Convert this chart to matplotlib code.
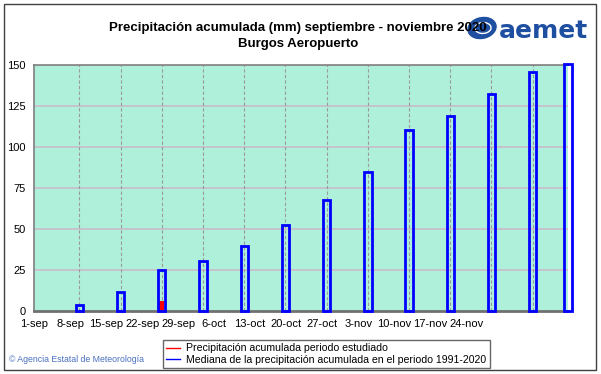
import numpy as np
import matplotlib
matplotlib.use("Agg")
from matplotlib import pyplot as plt
from matplotlib.patches import Rectangle, Ellipse
from matplotlib.lines import Line2D

plt.rcParams["font.family"] = ["Liberation Sans", "DejaVu Sans"]

# data (days since 1-sep)
bar_days = [7, 14, 21, 28, 35, 42, 49, 56, 63, 70, 77, 84, 90]
mediana = [3.5, 11.4, 24.8, 30.3, 39.4, 52.4, 67.9, 84.9, 110.5, 119.1, 132.5, 145.7, 150.5]
obs_days = [7, 14, 21]
observada = [0, 0, 6.3]
xlabels = ["1-sep", "8-sep", "15-sep", "22-sep", "29-sep", "6-oct", "13-oct",
           "20-oct", "27-oct", "3-nov", "10-nov", "17-nov", "24-nov"]
yticks = [0, 25, 50, 75, 100, 125, 150]

fig = plt.figure(figsize=(6.01, 3.74), dpi=100)
fig.patch.set_facecolor("white")

# outer frame
fig.patches.append(Rectangle((4 / 601, 4 / 374), 592 / 601, 366 / 374,
                             transform=fig.transFigure, fill=False,
                             edgecolor="#404040", linewidth=1.0))

ax = fig.add_axes([34 / 601, 63 / 374, 534 / 601, 246 / 374])
ax.set_facecolor("#aff0da")
ax.set_xlim(0, 90)
ax.set_ylim(0, 150)

# grid
for v in yticks[1:]:
    ax.axhline(v, color="#c8c0cc", linewidth=1.3, zorder=1)
for d in bar_days[:-1]:
    ax.axvline(d, color="#9a9a9a", linewidth=0.8, linestyle=(0, (3, 2)), zorder=1)

# bars
ax.bar(bar_days, mediana, width=1.25, facecolor="none", edgecolor="#0000ff",
       linewidth=2.0, zorder=3, clip_on=False)
ax.bar(obs_days, observada, width=0.8, color="#ff0000", linewidth=0, zorder=2)

# axes styling
for s in ["top", "left"]:
    ax.spines[s].set_color("#808080")
    ax.spines[s].set_linewidth(1.2)
ax.spines["bottom"].set_color("#707070")
ax.spines["bottom"].set_linewidth(2.0)
ax.spines["right"].set_visible(False)

ax.set_yticks(yticks)
ax.set_yticklabels([str(v) for v in yticks], fontsize=8)
label_pos = -0.7 + 6.12 * np.arange(len(xlabels))
ax.set_xticks(label_pos)
ax.set_xticklabels(xlabels, fontsize=8)
ax.tick_params(axis="both", length=0)
ax.tick_params(axis="y", pad=6)
ax.tick_params(axis="x", pad=6)

# titles
fig.text(298 / 601, 1 - 28 / 374, "Precipitación acumulada (mm) septiembre - noviembre 2020",
         ha="center", va="center", fontsize=9.5, fontweight="bold")
fig.text(298 / 601, 1 - 44 / 374, "Burgos Aeropuerto",
         ha="center", va="center", fontsize=9.5, fontweight="bold")

# logo
logo_blue = "#1e4fa0"
fig.patches.append(Ellipse((482 / 601, 1 - 28 / 374), 30 / 601, 24 / 374,
                           transform=fig.transFigure, facecolor=logo_blue,
                           edgecolor="white", linewidth=0.8, angle=-15))
fig.patches.append(Ellipse((483 / 601, 1 - 28 / 374), 16 / 601, 11 / 374,
                           transform=fig.transFigure, facecolor="none",
                           edgecolor="white", linewidth=1.0, angle=-15))
fig.text(499 / 601, 1 - 31 / 374, "aemet", ha="left", va="center",
         fontsize=18, fontweight="bold", color=logo_blue, family="DejaVu Sans")

# legend
handles = [Line2D([], [], color="#ff0000", linewidth=1.0),
           Line2D([], [], color="#0000ff", linewidth=1.0)]
leg = fig.legend(handles, ["Precipitación acumulada periodo estudiado",
                           "Mediana de la precipitación acumulada en el periodo 1991-2020"],
                 loc="lower left", bbox_to_anchor=(163 / 601, 6 / 374),
                 fontsize=7.6, frameon=True, fancybox=False, handlelength=1.3,
                 handletextpad=0.6, borderpad=0.3, labelspacing=0.15,
                 borderaxespad=0)
leg.get_frame().set_edgecolor("#404040")
leg.get_frame().set_linewidth(1.0)

fig.text(9 / 601, 1 - 360 / 374, "© Agencia Estatal de Meteorología",
         ha="left", va="center", fontsize=6.3, color="#4a70c0")

fig.savefig("out.png", dpi=100)
